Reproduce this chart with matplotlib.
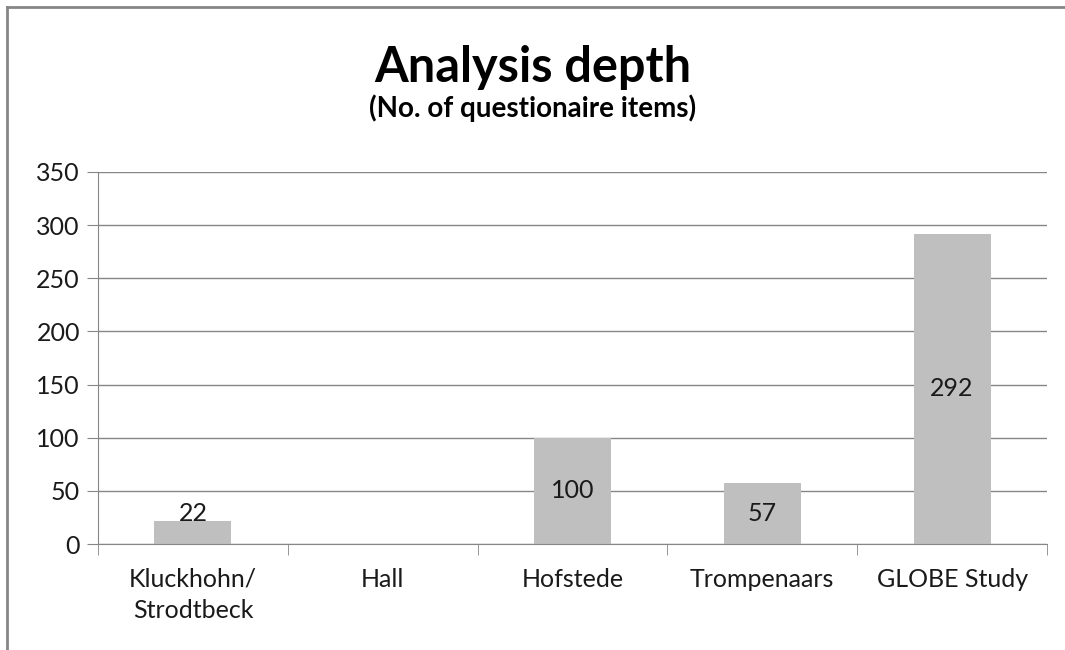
import matplotlib.pyplot as plt
from matplotlib.lines import Line2D

categories = ['Kluckhohn/\nStrodtbeck', 'Hall', 'Hofstede', 'Trompenaars', 'GLOBE Study']
items = [22, 0, 100, 57, 292]
yticks = [0, 50, 100, 150, 200, 250, 300, 350]

plt.rcParams['font.family'] = ['Lato', 'DejaVu Sans']

fig = plt.figure(figsize=(10.65, 6.5), dpi=100)
ax = fig.add_axes([98 / 1065, 1 - 544 / 650, (1047 - 98) / 1065, (544 - 172) / 650])

# outer chart frame (only left and top edges visible in the crop)
fx, fy = 6.5 / 1065, 1 - 7 / 650
fig.lines.append(Line2D([fx, fx], [0, fy], transform=fig.transFigure, color='#868686', lw=2))
fig.lines.append(Line2D([fx, 1], [fy, fy], transform=fig.transFigure, color='#868686', lw=2))

x = list(range(len(categories)))
ax.bar(x, items, width=0.405, color='#BFBFBF', zorder=2)

for xi, v in zip(x, items):
    if v == 0:
        continue
    if v < 30:
        ax.text(xi, v, str(v), ha='center', va='baseline', fontsize=18, color='#1a1a1a', zorder=3)
    else:
        ax.text(xi, v / 2, str(v), ha='center', va='center', fontsize=18, color='#1a1a1a', zorder=3)

ax.set_xlim(-0.5, len(categories) - 0.5)
ax.set_ylim(0, 350)
ax.set_yticks(yticks)
ax.tick_params(axis='y', length=8, color='#868686', labelsize=18, pad=5, labelcolor='#1a1a1a')
ax.set_xticks(x)
ax.set_xticklabels(categories, fontsize=18, linespacing=1.45, color='#1a1a1a')
ax.tick_params(axis='x', length=0, pad=17)
ax.set_xticks([i - 0.5 for i in range(len(categories) + 1)], minor=True)
ax.tick_params(axis='x', which='minor', length=8, color='#868686')

ax.grid(axis='y', color='#868686', linewidth=1, zorder=0)
for side in ['top', 'right']:
    ax.spines[side].set_visible(False)
for side in ['left', 'bottom']:
    ax.spines[side].set_color('#868686')

fig.text(0.5, 1 - 68 / 650, 'Analysis depth', ha='center', va='center',
         fontsize=35, fontweight='bold')
fig.text(0.5, 1 - 108 / 650, '(No. of questionaire items)', ha='center', va='center',
         fontsize=20, fontweight='bold')

fig.savefig('out.png', dpi=100)
